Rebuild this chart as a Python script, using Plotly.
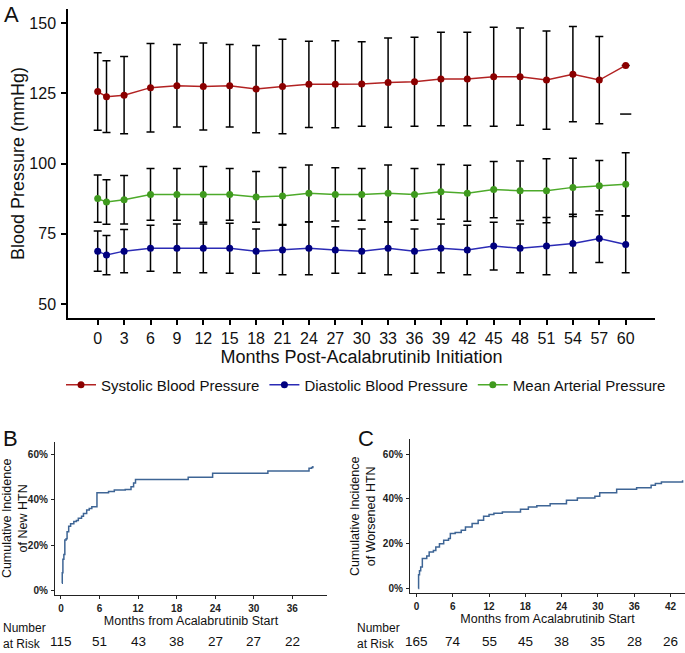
import plotly.graph_objects as go

# ---------------- Panel A data ----------------
months_a = [0, 1, 3, 6, 9, 12, 15, 18, 21, 24, 27, 30, 33, 36, 39, 42, 45, 48, 51, 54, 57, 60]
month_ticks_a = [0, 3, 6, 9, 12, 15, 18, 21, 24, 27, 30, 33, 36, 39, 42, 45, 48, 51, 54, 57, 60]
bp_ticks = [50, 75, 100, 125, 150]

systolic_mean = [125.6, 123.8, 124.3, 127.0, 127.7, 127.4, 127.7, 126.5, 127.4, 128.2, 128.2,
                 128.3, 128.8, 129.1, 130.1, 130.1, 130.9, 130.9, 129.7, 131.8, 129.7, 134.9]
systolic_sd = [13.8, 12.8, 13.75, 15.75, 14.7, 15.5, 14.7, 15.55, 16.85, 15.35, 15.5,
               15.05, 15.9, 15.8, 16.65, 16.65, 17.6, 17.3, 17.5, 16.95, 15.55, None]
systolic_lower_last = 117.6  # only the lower bound is shown at month 60

diastolic_mean = [68.8, 67.4, 68.8, 69.8, 69.8, 69.8, 69.8, 68.8, 69.2, 69.8, 69.2,
                  68.8, 69.8, 68.8, 69.8, 69.2, 70.6, 69.8, 70.6, 71.5, 73.3, 71.2]
diastolic_sd = [7.2, 7.0, 7.7, 8.2, 8.7, 8.7, 8.9, 7.9, 8.8, 9.4, 8.3,
                7.9, 9.4, 7.9, 8.7, 8.8, 8.5, 8.7, 10.2, 10.4, 8.5, 10.1]

map_mean = [87.5, 86.3, 87.1, 89.0, 89.0, 89.0, 89.0, 88.1, 88.4, 89.4, 89.0,
            89.0, 89.4, 89.0, 89.9, 89.4, 90.7, 90.3, 90.3, 91.5, 92.1, 92.6]
map_sd = [8.45, 7.9, 8.65, 9.2, 9.2, 9.9, 9.2, 9.05, 10.15, 10.1, 9.45,
          9.2, 10.1, 9.2, 9.75, 9.95, 10.0, 10.55, 11.35, 10.35, 9.0, 11.2]

# ---------------- Panel B data ----------------
new_htn_months = [0.15, 0.2, 0.3, 0.45, 0.6, 0.8, 0.95, 1.2, 1.5, 2.0, 2.4, 2.7, 3.2, 3.5, 4.0,
                  4.4, 4.8, 5.6, 7.4, 8.3, 10.0, 10.9, 11.3, 11.6, 19.8, 23.6, 32.2, 38.6, 39.0, 39.2]
new_htn_pct = [3.4, 8.0, 14.0, 16.0, 22.4, 23.0, 26.0, 28.5, 29.5, 30.5, 31.0, 32.0, 32.8, 34.0, 35.6,
               36.3, 37.0, 43.2, 43.7, 44.4, 44.6, 45.8, 47.5, 49.0, 50.0, 51.7, 52.7, 53.9, 54.3, 54.9]
risk_months_b = [0, 6, 12, 18, 24, 30, 36]
risk_b = [115, 51, 43, 38, 27, 27, 22]

# ---------------- Panel C data ----------------
worse_htn_months = [0.3, 0.35, 0.5, 0.7, 0.97, 1.7, 2.1, 2.8, 3.2, 3.8, 4.5, 5.3, 5.6, 6.4, 7.4, 8.1,
                    9.2, 10.2, 11.1, 12.0, 12.8, 14.2, 17.2, 18.5, 19.9, 22.1, 24.8, 26.6, 29.5, 30.3,
                    33.1, 36.4, 38.8, 39.5, 40.5, 44.0]
worse_htn_pct = [0.0, 6.2, 8.0, 9.6, 13.4, 14.5, 16.3, 17.0, 18.6, 20.0, 21.6, 22.3, 24.6, 25.0, 26.0, 27.5,
                 29.0, 30.5, 32.3, 33.0, 33.6, 34.2, 35.4, 36.4, 37.0, 37.9, 39.4, 40.4, 41.2, 42.7,
                 44.3, 45.0, 46.1, 46.9, 47.6, 48.3]
risk_months_c = [0, 6, 12, 18, 24, 30, 36, 42]
risk_c = [165, 74, 55, 45, 38, 35, 28, 26]

pct_ticks = [0, 20, 40, 60]
pct_labels = ["0%", "20%", "40%", "60%"]

# ---------------- Figure ----------------
W, H = 685, 653
FONT = "Liberation Sans, Arial, sans-serif"

def fx(p):
    return p / W

def fy(p):
    return 1 - p / H

fig = go.Figure()

err_style = dict(type="data", color="black", thickness=1.5, width=4)

fig.add_trace(go.Scatter(
    x=months_a, y=systolic_mean, mode="lines+markers", name="Systolic Blood Pressure",
    line=dict(color="#B22222", width=1.5), marker=dict(color="#8B0000", size=7),
    error_y=dict(array=systolic_sd, **err_style), xaxis="x", yaxis="y"))
fig.add_trace(go.Scatter(
    x=months_a, y=diastolic_mean, mode="lines+markers", name="Diastolic Blood Pressure",
    line=dict(color="#2B2BB5", width=1.5), marker=dict(color="#00007F", size=7),
    error_y=dict(array=diastolic_sd, **err_style), xaxis="x", yaxis="y"))
fig.add_trace(go.Scatter(
    x=months_a, y=map_mean, mode="lines+markers", name="Mean Arterial Pressure",
    line=dict(color="#4DAA2A", width=1.5), marker=dict(color="#3F9A1E", size=7),
    error_y=dict(array=map_sd, **err_style), xaxis="x", yaxis="y"))
fig.add_trace(go.Scatter(
    x=[months_a[-1]], y=[systolic_lower_last], mode="markers", showlegend=False,
    marker=dict(symbol="line-ew", size=8, line=dict(color="black", width=1.5)),
    xaxis="x", yaxis="y", hoverinfo="skip"))

fig.add_trace(go.Scatter(
    x=new_htn_months, y=new_htn_pct, mode="lines", line=dict(color="#3E6595", width=1.5, shape="hv"),
    showlegend=False, xaxis="x2", yaxis="y2"))
fig.add_trace(go.Scatter(
    x=worse_htn_months, y=worse_htn_pct, mode="lines", line=dict(color="#3E6595", width=1.5, shape="hv"),
    showlegend=False, xaxis="x3", yaxis="y3"))

axA = dict(showline=True, linecolor="black", linewidth=1.5, ticks="outside", ticklen=5,
           tickwidth=1.5, tickcolor="black", showgrid=False, zeroline=False,
           tickfont=dict(size=16, color="#111"))
axB = dict(showline=True, linecolor="#222", linewidth=1.3, ticks="outside", ticklen=3,
           tickwidth=1.3, tickcolor="#222", showgrid=False, zeroline=False,
           tickfont=dict(size=10, color="#222", weight="bold"))

fig.update_layout(
    width=W, height=H, margin=dict(l=0, r=0, t=0, b=0),
    paper_bgcolor="white", plot_bgcolor="white",
    font=dict(family=FONT, color="#111"),
    showlegend=True,
    legend=dict(orientation="h", x=fx(366), xanchor="center", y=fy(385), yanchor="middle",
                font=dict(size=15), bgcolor="rgba(0,0,0,0)"),
    xaxis=dict(domain=[fx(68), fx(655)], range=[-3.375, 63.33], anchor="y",
               tickvals=month_ticks_a, ticklabelstandoff=0,
               title=dict(text="Months Post-Acalabrutinib Initiation", font=dict(size=18), standoff=3),
               **axA),
    yaxis=dict(domain=[fy(318), fy(9)], range=[45, 155], anchor="x",
               tickvals=bp_ticks, ticklabelstandoff=2,
               title=dict(text="Blood Pressure (mmHg)", font=dict(size=18), standoff=0),
               **axA),
    xaxis2=dict(domain=[fx(55), fx(327)], range=[-0.93, 41.4], anchor="y2",
                tickvals=risk_months_b, ticklabelstandoff=1,
                title=dict(text="Months from Acalabrutinib Start", font=dict(size=12.5), standoff=2),
                **axB),
    yaxis2=dict(domain=[fy(595), fy(441.7)], range=[-1.76, 65.6], anchor="x2",
                tickvals=pct_ticks, ticktext=pct_labels, ticklabelstandoff=1,
                title=dict(text="Cumulative Incidence<br>of New HTN", font=dict(size=12.5), standoff=4),
                **axB),
    xaxis3=dict(domain=[fx(410), 1.0], range=[-1.07, 44.4], anchor="y3",
                tickvals=risk_months_c, ticklabelstandoff=1,
                title=dict(text="Months from Acalabrutinib Start", font=dict(size=12.5), standoff=2),
                **axB),
    yaxis3=dict(domain=[fy(593.3), fy(439.3)], range=[-2.1, 66.6], anchor="x3",
                tickvals=pct_ticks, ticktext=pct_labels, ticklabelstandoff=1,
                title=dict(text="Cumulative Incidence<br>of Worsened HTN", font=dict(size=12.5), standoff=4),
                **axB),
)

annotations = [
    dict(text="A", x=fx(2), y=fy(0), xref="paper", yref="paper", xanchor="left", yanchor="top",
         showarrow=False, font=dict(size=22)),
    dict(text="B", x=fx(1), y=fy(424), xref="paper", yref="paper", xanchor="left", yanchor="top",
         showarrow=False, font=dict(size=22)),
    dict(text="C", x=fx(356), y=fy(424), xref="paper", yref="paper", xanchor="left", yanchor="top",
         showarrow=False, font=dict(size=22)),
    dict(text="Number<br>at Risk", x=fx(1), y=fy(636), xref="paper", yref="paper", xanchor="left",
         yanchor="middle", align="left", showarrow=False, font=dict(size=12)),
    dict(text="Number<br>at Risk", x=fx(355), y=fy(636), xref="paper", yref="paper", xanchor="left",
         yanchor="middle", align="left", showarrow=False, font=dict(size=12)),
]
for m, n in zip(risk_months_b, risk_b):
    annotations.append(dict(text=str(n), x=m, xref="x2", y=fy(641), yref="paper", xanchor="center",
                            yanchor="middle", showarrow=False, font=dict(size=13.5)))
for m, n in zip(risk_months_c, risk_c):
    annotations.append(dict(text=str(n), x=m, xref="x3", y=fy(641), yref="paper", xanchor="center",
                            yanchor="middle", showarrow=False, font=dict(size=13.5)))
fig.update_layout(annotations=annotations)

fig.write_html("out.html", config={"displayModeBar": False},
               post_script="document.body.style.margin='0px';")
